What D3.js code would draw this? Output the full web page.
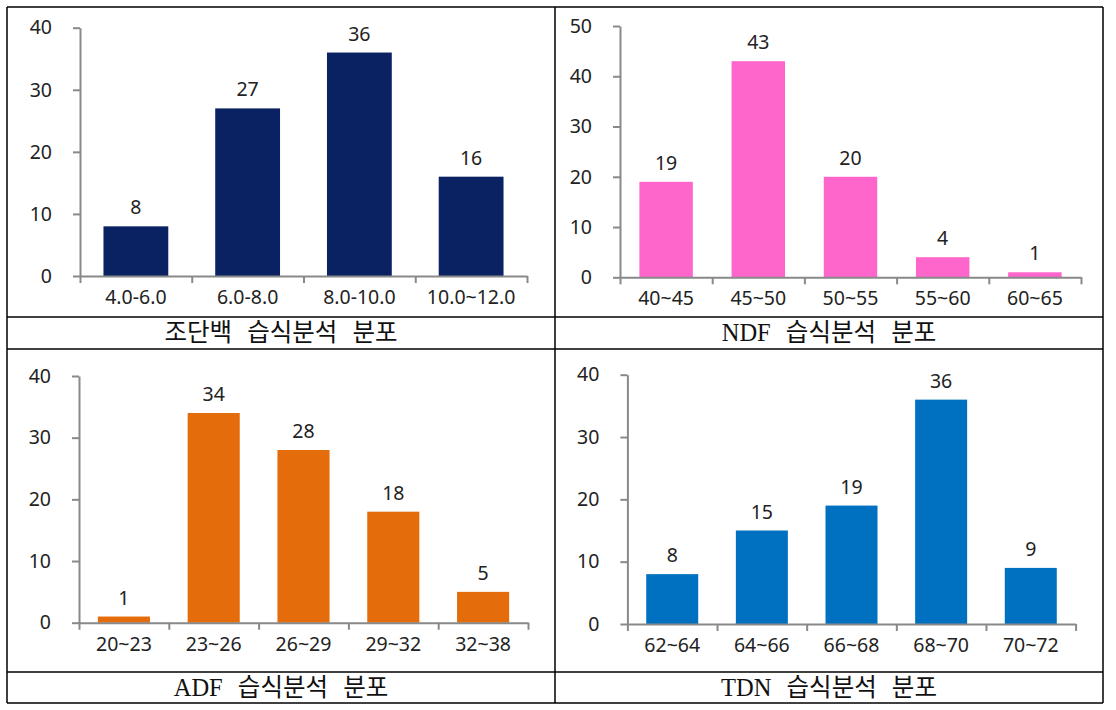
<html>
<head>
<meta charset="utf-8">
<style>
  body { margin: 0; background: #fff; }
  .axis path, .axis line { stroke: #898989; stroke-width: 2px; }
  .axis text { font-family: "Noto Sans", sans-serif; font-size: 19.5px; fill: #222; }
  .val { font-family: "Noto Sans", sans-serif; font-size: 19.5px; fill: #222; text-anchor: middle; }
  .cap { font-family: "Liberation Serif", "Noto Sans CJK KR", serif; font-size: 24.5px; fill: #111; text-anchor: middle; word-spacing: 9px; }
</style>
</head>
<body>
<script src="https://cdn.jsdelivr.net/npm/d3@7"></script>
<script>
// data
const cpCats = ["4.0-6.0", "6.0-8.0", "8.0-10.0", "10.0~12.0"];
const cpVals = [8, 27, 36, 16];
const cpTicks = [0, 10, 20, 30, 40];

const ndfCats = ["40~45", "45~50", "50~55", "55~60", "60~65"];
const ndfVals = [19, 43, 20, 4, 1];
const ndfTicks = [0, 10, 20, 30, 40, 50];

const adfCats = ["20~23", "23~26", "26~29", "29~32", "32~38"];
const adfVals = [1, 34, 28, 18, 5];
const adfTicks = [0, 10, 20, 30, 40];

const tdnCats = ["62~64", "64~66", "66~68", "68~70", "70~72"];
const tdnVals = [8, 15, 19, 36, 9];
const tdnTicks = [0, 10, 20, 30, 40];

const captions = ["조단백 습식분석 분포", "NDF 습식분석 분포", "ADF 습식분석 분포", "TDN 습식분석 분포"];

const W = 1116, H = 710;
const svg = d3.select("body").append("svg").attr("width", W).attr("height", H);

// table frame: x 7 / 555 / 1103, rows 7 / 317 / 349 / 672 / 703
const colX = [7, 555, 1103];
const rowY = [7, 317, 349, 672, 703];
const frame = svg.append("g").attr("stroke", "#000").attr("stroke-width", 1.5);
rowY.forEach(function (y) {
    frame.append("line").attr("x1", colX[0]).attr("x2", colX[2]).attr("y1", y).attr("y2", y);
});
colX.forEach(function (x) {
    frame.append("line").attr("x1", x).attr("x2", x).attr("y1", rowY[0]).attr("y2", rowY[4]);
});

// panels
const panels = [
    { cats: cpCats, vals: cpVals, ticks: cpTicks, color: "#0b2262", cap: captions[0],
      left: 80, right: 527, bottom: 276, top: 27.7, capX: 281, capY: 341 },
    { cats: ndfCats, vals: ndfVals, ticks: ndfTicks, color: "#ff66cc", cap: captions[1],
      left: 620, right: 1081, bottom: 277.3, top: 26, capX: 829, capY: 341 },
    { cats: adfCats, vals: adfVals, ticks: adfTicks, color: "#e46c0a", cap: captions[2],
      left: 79, right: 528, bottom: 622.7, top: 376, capX: 281, capY: 696 },
    { cats: tdnCats, vals: tdnVals, ticks: tdnTicks, color: "#0070c0", cap: captions[3],
      left: 627.4, right: 1075.6, bottom: 624, top: 374.7, capX: 829, capY: 696 }
];

panels.forEach(function (p) {
    const g = svg.append("g");
    const n = p.cats.length;

    const x = d3.scaleBand().domain(p.cats).range([p.left, p.right])
        .paddingInner(0.42).paddingOuter(0.21);
    const xb = d3.scaleLinear().domain([0, n]).range([p.left, p.right]);
    const y = d3.scaleLinear().domain([0, d3.max(p.ticks)]).range([p.bottom, p.top]);

    // y axis
    g.append("g")
        .attr("class", "axis")
        .attr("transform", "translate(" + p.left + ",0)")
        .call(d3.axisLeft(y).tickValues(p.ticks).tickSizeOuter(0).tickSizeInner(7).tickPadding(21));

    // bars
    g.selectAll(".bar")
        .data(p.vals)
        .enter().append("rect")
        .attr("x", function (d, i) { return x(p.cats[i]); })
        .attr("y", function (d) { return y(d); })
        .attr("width", x.bandwidth())
        .attr("height", function (d) { return y(0) - y(d); })
        .attr("fill", p.color);

    // x axis: boundary ticks
    g.append("g")
        .attr("class", "axis")
        .attr("transform", "translate(0," + p.bottom + ")")
        .call(d3.axisBottom(xb).tickValues(d3.range(n + 1)).tickFormat("").tickSizeOuter(0).tickSizeInner(7));

    // x axis: labels
    const xl = g.append("g")
        .attr("class", "axis")
        .attr("transform", "translate(0," + p.bottom + ")")
        .call(d3.axisBottom(x).tickSize(0).tickPadding(14));
    xl.select(".domain").remove();

    // value labels
    g.selectAll(".val")
        .data(p.vals)
        .enter().append("text")
        .attr("class", "val")
        .attr("x", function (d, i) { return x(p.cats[i]) + x.bandwidth() / 2; })
        .attr("y", function (d) { return y(d) - 12; })
        .text(function (d) { return d; });

    // caption
    svg.append("text")
        .attr("class", "cap")
        .attr("x", p.capX)
        .attr("y", p.capY)
        .text(p.cap);
});
</script>
</body>
</html>
